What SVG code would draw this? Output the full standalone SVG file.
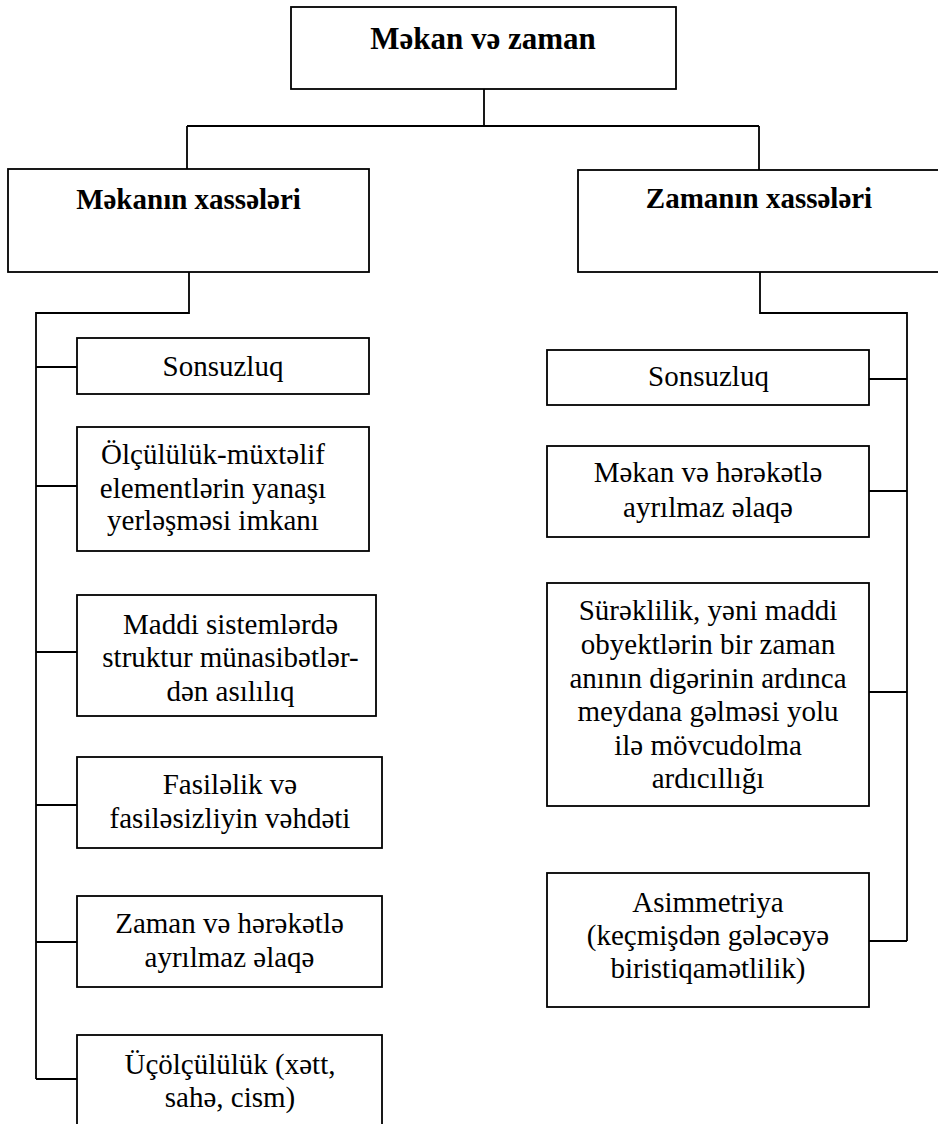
<svg xmlns="http://www.w3.org/2000/svg" width="938" height="1124" viewBox="0 0 938 1124">
<style>
rect{fill:#fff;stroke:#000;stroke-width:1.8}
.c{fill:none;stroke:#000;stroke-width:1.8}
text{font-family:"Liberation Serif","Times New Roman",serif;font-size:29px;fill:#000;text-anchor:middle}
.b{font-weight:bold}
.t{font-size:31px}
</style>
<rect width="938" height="1124" style="fill:#fff;stroke:none"/>
<g id="connectors">
<path class="c" d="M484 89V126M187 126H759M187 126V169M759 126V170"/>
<path class="c" d="M189 272V313H36V1079M36 367H77M36 486H77M36 652H77M36 805H77M36 942H77M36 1079H77"/>
<path class="c" d="M760 272V313H907V941M869 379H907M869 491H907M869 692H907M869 941H907"/>
</g>
<g id="root"><rect x="291" y="7" width="385" height="82"/><text class="b t" x="483" y="49">Məkan və zaman</text></g>
<g id="mekan"><rect x="8" y="169" width="361" height="103"/><text class="b" x="188.5" y="209">Məkanın xassələri</text></g>
<g id="zaman"><rect x="578" y="170" width="364" height="102"/><text class="b" x="759" y="208">Zamanın xassələri</text></g>
<g id="m1"><rect x="77" y="338" width="292" height="56"/><text x="223" y="376">Sonsuzluq</text></g>
<g id="m2"><rect x="77" y="427" width="292" height="124"/><text x="213" y="464">Ölçülülük-müxtəlif</text><text x="213" y="498">elementlərin yanaşı</text><text x="213" y="530">yerləşməsi imkanı</text></g>
<g id="m3"><rect x="77" y="595" width="299" height="121"/><text x="230.5" y="634">Maddi sistemlərdə</text><text x="230.5" y="667">struktur münasibətlər-</text><text x="230.5" y="701">dən asılılıq</text></g>
<g id="m4"><rect x="77" y="757" width="305" height="91"/><text x="230" y="794">Fasiləlik və</text><text x="230" y="828">fasiləsizliyin vəhdəti</text></g>
<g id="m5"><rect x="77" y="896" width="305" height="91"/><text x="229.5" y="933">Zaman və hərəkətlə</text><text x="229.5" y="967">ayrılmaz əlaqə</text></g>
<g id="m6"><rect x="77" y="1035" width="305" height="100"/><text x="230" y="1074">Üçölçülülük (xətt,</text><text x="230" y="1107">sahə, cism)</text></g>
<g id="z1"><rect x="547" y="350" width="322" height="55"/><text x="708.5" y="386">Sonsuzluq</text></g>
<g id="z2"><rect x="547" y="446" width="322" height="91"/><text x="708" y="482">Məkan və hərəkətlə</text><text x="708" y="517">ayrılmaz əlaqə</text></g>
<g id="z3"><rect x="547" y="583" width="322" height="223"/><text x="708" y="620">Sürəklilik, yəni maddi</text><text x="708" y="654">obyektlərin bir zaman</text><text x="708" y="688">anının digərinin ardınca</text><text x="708" y="721">meydana gəlməsi yolu</text><text x="708" y="755">ilə mövcudolma</text><text x="708" y="788">ardıcıllığı</text></g>
<g id="z4"><rect x="547" y="873" width="322" height="134"/><text x="708" y="912">Asimmetriya</text><text x="708" y="945">(keçmişdən gələcəyə</text><text x="708" y="978">biristiqamətlilik)</text></g>
</svg>
